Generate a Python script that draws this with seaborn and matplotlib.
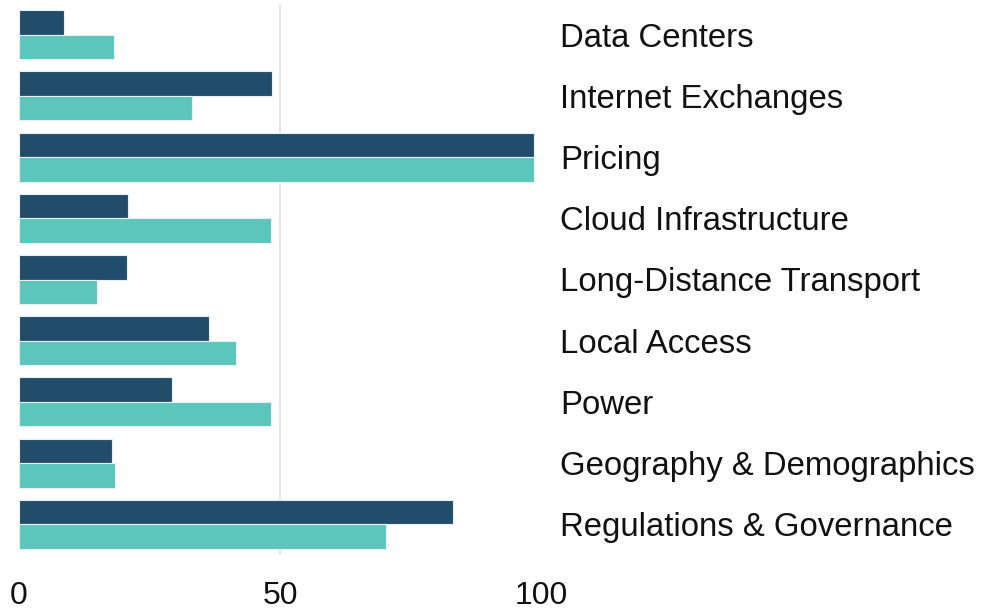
import matplotlib
matplotlib.use("Agg")
import matplotlib.pyplot as plt
import seaborn as sns
import pandas as pd

categories = [
    "Data Centers",
    "Internet Exchanges",
    "Pricing",
    "Cloud Infrastructure",
    "Long-Distance Transport",
    "Local Access",
    "Power",
    "Geography & Demographics",
    "Regulations & Governance",
]
series_names = ["Series 1", "Series 2"]
series_1 = [8.7, 48.5, 98.6, 20.8, 20.6, 36.4, 29.3, 17.9, 83.1]
series_2 = [18.2, 33.1, 98.6, 48.3, 15.0, 41.6, 48.2, 18.4, 70.4]
x_ticks = [0, 50, 100]

df = pd.DataFrame({
    "category": categories * 2,
    "value": series_1 + series_2,
    "series": [series_names[0]] * len(categories) + [series_names[1]] * len(categories),
})

sns.set_style("white")
plt.rcParams["font.family"] = ["Liberation Sans", "DejaVu Sans"]

fig = plt.figure(figsize=(9.87, 6.13), dpi=100)
ax = fig.add_axes([19 / 987, 58 / 613, 522 / 987, 551 / 613])

sns.barplot(
    data=df, y="category", x="value", hue="series", order=categories,
    hue_order=series_names, palette=["#214d6b", "#5cc6bc"], saturation=1,
    width=0.8, edgecolor="#e9eef2", linewidth=0.8, legend=False, ax=ax,
)

ax.set_xlim(0, 100)
ax.set_ylim(8.5, -0.5)
ax.set_xticks(x_ticks)
ax.set_xticklabels([str(t) for t in x_ticks])
ax.set_xlabel("")
ax.set_ylabel("")

ax.axvline(50, color="#e6e6e6", linewidth=1.5, zorder=0)

for s in ax.spines.values():
    s.set_visible(False)

ax.yaxis.tick_right()
ax.tick_params(axis="y", length=0, pad=14, labelsize=23.7, labelcolor="#111111")
ax.tick_params(axis="x", length=0, pad=19, labelsize=23, labelcolor="#111111")

fig.savefig("out.png", dpi=100, facecolor="white")
